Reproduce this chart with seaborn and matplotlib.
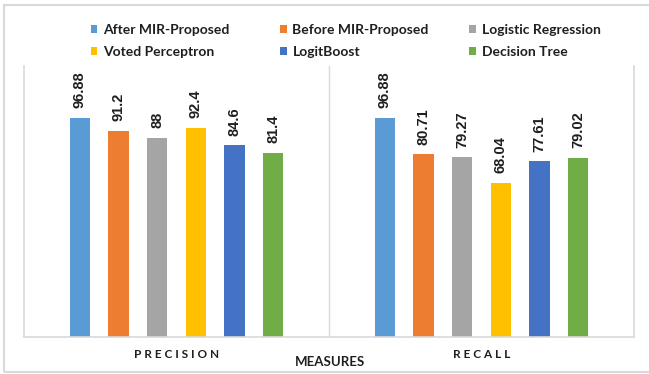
import matplotlib
matplotlib.use("Agg")
import matplotlib.pyplot as plt
from matplotlib.patches import Patch, Rectangle
import seaborn as sns
import pandas as pd

# Data
measures = ["PRECISION", "RECALL"]
models = ["After MIR-Proposed", "Before MIR-Proposed", "Logistic Regression",
          "Voted Perceptron", "LogitBoost", "Decision Tree"]
precision = [96.88, 91.2, 88, 92.4, 84.6, 81.4]
recall = [96.88, 80.71, 79.27, 68.04, 77.61, 79.02]
colors = ["#5B9BD5", "#ED7D31", "#A5A5A5", "#FFC000", "#4472C4", "#70AD47"]

rows = []
for m, p, r in zip(models, precision, recall):
    rows.append({"Measure": measures[0], "Model": m, "Value": p})
    rows.append({"Measure": measures[1], "Model": m, "Value": r})
df = pd.DataFrame(rows)

sns.set_style("white")
plt.rcParams["font.family"] = ["Lato", "DejaVu Sans"]

W, H = 649, 374
fig = plt.figure(figsize=(W / 100, H / 100), dpi=100)
ax = fig.add_axes([24 / W, 1 - 336.5 / H, 610 / W, (336.5 - 65.5) / H])

sns.barplot(data=df, x="Measure", y="Value", hue="Model", order=measures,
            hue_order=models, palette=colors, width=0.76, gap=0.47,
            ax=ax, legend=False, saturation=1, edgecolor="none")

text_col = "#1F1F1F"
grid_col = "#D9D9D9"

for cont in ax.containers:
    ax.bar_label(cont, fmt="{:g}", rotation=90, padding=7, fontsize=10.5,
                 fontweight="bold", color=text_col,
                 family=["Liberation Sans", "DejaVu Sans"])

ax.set_ylim(0, 120)
ax.set_xlim(-0.5, 1.5)
ax.set_yticks([])
ax.set_xlabel("")
ax.set_ylabel("")
ax.set_xticks([0, 1])
ax.set_xticklabels([" ".join(m) for m in measures], fontsize=8.5,
                   fontweight="bold", color=text_col)
ax.tick_params(axis="x", length=0, pad=9)
ax.axvline(0.5, color=grid_col, lw=1, zorder=0)
for side in ["left", "right", "bottom"]:
    ax.spines[side].set_color(grid_col)
    ax.spines[side].set_linewidth(1.2)
ax.spines["top"].set_visible(False)

fig.text(330 / W, 1 - 362 / H, "MEASURES", ha="center", va="center",
         fontsize=9.5, fontweight="bold", color=text_col)

# Legend: three columns of two entries each, filled row by row
handles = [Patch(facecolor=c, edgecolor="none") for c in colors]
col_x = [90.5, 280, 469]
for j, x in enumerate(col_x):
    idx = [j, j + 3]
    fig.legend([handles[i] for i in idx], [models[i] for i in idx],
               loc="center left", bbox_to_anchor=(x / W, 1 - 40.5 / H),
               frameon=False, borderpad=0, borderaxespad=0,
               handlelength=0.5, handleheight=0.5, handletextpad=0.4,
               labelspacing=0.72,
               prop={"family": ["Lato", "DejaVu Sans"], "weight": "bold",
                     "size": 10},
               labelcolor=text_col)

# Outer chart frame
fig.patches.append(Rectangle((4 / W, 1 - 372 / H), 660 / W, 367 / H,
                             transform=fig.transFigure, fill=False,
                             edgecolor=grid_col, linewidth=1.5))

fig.savefig("out.png", dpi=100)
